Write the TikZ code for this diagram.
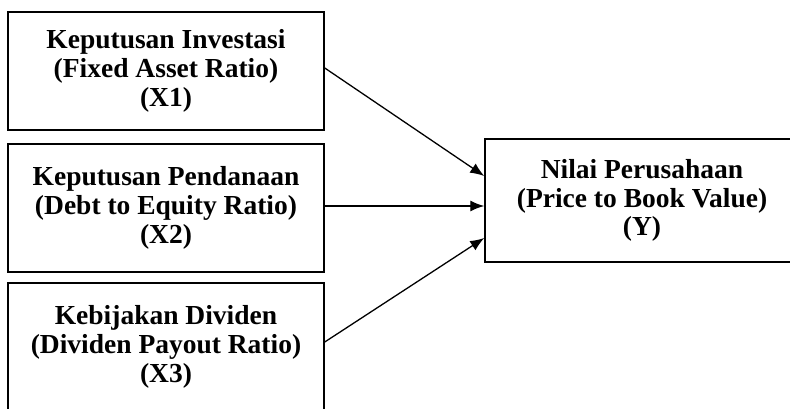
\documentclass[tikz,border=0pt]{standalone}
\usepackage{fontspec}
\setmainfont{Liberation Serif}
\usetikzlibrary{arrows.meta}

\tikzset{
    varbox/.style={draw, line width=1.5pt, align=center, inner sep=0pt,
        font=\fontsize{27.5}{28.7}\selectfont\bfseries},
    pfeil/.style={-{Latex[length=14pt,width=11pt]}, line width=1.3pt}
}

\begin{document}
\begin{tikzpicture}[x=1pt,y=1pt]
    % --- Rahmen ---
    \useasboundingbox (0,0) rectangle (790,408);
    \clip (0,0) rectangle (790,408);

    % --- Unabhaengige Variablen ---
    \node[varbox, minimum width=316pt, minimum height=118pt] (x1) at (166,337)
        {Keputusan Investasi\\(Fixed Asset Ratio)\\(X1)};
    \node[varbox, minimum width=316pt, minimum height=128pt] (x2) at (166,200)
        {Keputusan Pendanaan\\(Debt to Equity Ratio)\\(X2)};
    \node[varbox, minimum width=316pt, minimum height=128pt] (x3) at (166,61)
        {Kebijakan Dividen\\(Dividen Payout Ratio)\\(X3)};

    % --- Abhaengige Variable ---
    \node[varbox, minimum width=314pt, minimum height=123pt] (yv) at (642,207.5)
        {Nilai Perusahaan\\(Price to Book Value)\\(Y)};

    % --- Pfeile ---
    \draw[pfeil] ([yshift=3pt]x1.east) -- ([yshift=24.5pt]yv.west);
    \draw[pfeil] ([yshift=2pt]x2.east) -- ([yshift=-5.5pt]yv.west);
    \draw[pfeil] ([yshift=5pt]x3.east) -- ([yshift=-37.5pt]yv.west);
\end{tikzpicture}
\end{document}
